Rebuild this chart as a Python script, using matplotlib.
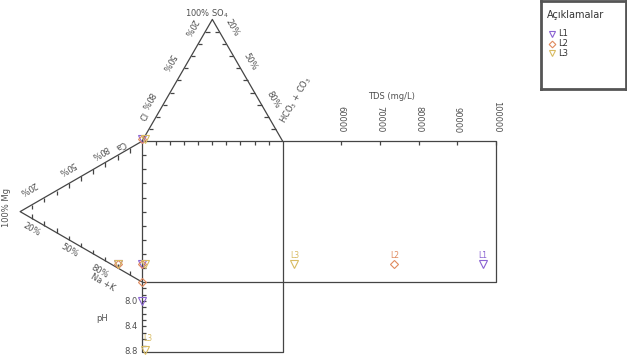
import numpy as np
import matplotlib
matplotlib.use('Agg')
import matplotlib.pyplot as plt

# sample data (percent of meq)
samples = ['L1', 'L2', 'L3']
cl = [100, 100, 98]
so4 = [0, 0, 0]
hco3 = [0, 0, 2]
ca = [3, 3, 3]
mg = [20, 20, 20]
nak = [77, 77, 77]
ph = [8.0, 7.7, 8.77]
tds = [96500, 73800, 48000]

tds_ticks = [60000, 70000, 80000, 90000, 100000]
ph_labels = [8.0, 8.4, 8.8]
pct_labels = ['20%', '50%', '80%']

colors = ['#8a63d2', '#e08a5e', '#d8bb62']
markers = ['v', 'D', 'v']
msizes = [6, 4.5, 6]

LC = '#454545'
TC = '#505050'
H = np.sqrt(3) / 2
TDS_MIN, TDS_MAX, TDS_W = 45000, 100000, 151.7
PH_MIN, PH_MAX, PH_H = 7.7, 8.8, 49.7

def tds_x(v):
    return 100 + (v - TDS_MIN) / (TDS_MAX - TDS_MIN) * TDS_W

def ph_y(v):
    return -(v - PH_MIN) / (PH_MAX - PH_MIN) * PH_H

fig = plt.figure(figsize=(6.27, 3.63), dpi=100)
ax = fig.add_axes([0, 0, 1, 1])
ax.set_xlim(-100.9, 344.7)
ax.set_ylim(-57.6, 200.4)
ax.axis('off')

kw = dict(color=LC, lw=0.9, solid_capstyle='butt')
# square, TDS box, pH box
ax.plot([0, 100, 100, 0, 0], [0, 0, 100, 100, 0], **kw)
ax.plot([100, 100 + TDS_W, 100 + TDS_W, 100], [100, 100, 0, 0], **kw)
ax.plot([0, 0, 100, 100], [0, -PH_H, -PH_H, 0], **kw)
# anion triangle
ax.plot([0, 50, 100], [100, 100 + 100 * H, 100], **kw)
# cation triangle
ax.plot([0, -100 * H, 0], [100, 50, 0], **kw)

tl = 3
for i in range(1, 10):
    f = i / 10
    # anion triangle ticks
    x, y = 50 * f, 100 + 100 * H * f
    ax.plot([x, x + tl], [y, y], **kw)
    x, y = 100 - 50 * f, 100 + 100 * H * f
    ax.plot([x, x - tl], [y, y], **kw)
    # cation triangle ticks
    x, y = -100 * H * f, 100 - 50 * f
    ax.plot([x, x], [y, y - tl], **kw)
    x, y = -100 * H * f, 50 * f
    ax.plot([x, x], [y, y + tl], **kw)
    # square ticks
    ax.plot([10 * i, 10 * i], [100, 100 - tl], **kw)
    ax.plot([0, tl], [10 * i, 10 * i], **kw)

# pH ticks every 0.1
for v in np.arange(7.8, 8.75, 0.1):
    ax.plot([0, tl], [ph_y(v), ph_y(v)], **kw)

# TDS ticks
for v in tds_ticks:
    ax.plot([tds_x(v), tds_x(v)], [100, 100 - tl], **kw)
    ax.text(tds_x(v), 106, str(v), rotation=270, ha='center', va='bottom',
            fontsize=6, color=TC)
ax.text(177, 132, 'TDS (mg/L)', ha='center', va='center', fontsize=6, color=TC)

fs = 6
def lab(x, y, s, rot):
    ax.text(x, y, s, rotation=rot, rotation_mode='anchor', ha='center',
            va='center', fontsize=fs, color=TC)

# anion triangle labels
ax.text(46.5, 186, '100% SO$_4$', ha='center', va='bottom', fontsize=fs, color=TC)
for s, (x, y) in zip(pct_labels, [(34.1, 181.2), (18.5, 156.4), (3.6, 129.4)]):
    lab(x, y, s, 240)
for s, (x, y) in zip(pct_labels, [(64.0, 180.5), (76.8, 156.4), (93.1, 129.4)]):
    lab(x, y, s, -60)
lab(2.1, 117.3, 'Cl', 60)
lab(109.5, 129.4, 'HCO$_3$ + CO$_3$', 60)

# cation triangle labels
lab(-96, 52.6, '100% Mg', 90)
for s, (x, y) in zip(pct_labels, [(-81.0, 66.8), (-53.3, 81.0), (-29.9, 92.4)]):
    lab(x, y, s, 210)
for s, (x, y) in zip(pct_labels, [(-78.2, 37.0), (-51.2, 22.7), (-29.9, 7.1)]):
    lab(x, y, s, -30)
lab(-15.6, 97.4, 'Ca', 210)
lab(-27.7, -0.7, 'Na +K', -30)

# pH labels
for v in ph_labels:
    ax.text(-3, ph_y(v), '%.1f' % v, ha='right', va='center', fontsize=fs, color=TC)
ax.text(-28, -26, 'pH', ha='center', va='center', fontsize=fs, color=TC)

# plot each sample in all five fields
for i, name in enumerate(samples):
    c = colors[i]
    mk = dict(marker=markers[i], ms=msizes[i], mfc='none', mec=c, mew=0.8, ls='none')
    axx = hco3[i] + so4[i] * 0.5
    axy = 100 + so4[i] * H
    cx = -mg[i] * H
    cy = ca[i] + mg[i] * 0.5
    ax.plot([axx], [axy + 1.5], **mk)
    ax.plot([cx], [cy], **mk)
    ax.plot([axx], [cy], **mk)
    ax.plot([tds_x(tds[i])], [cy], **mk)
    ax.text(tds_x(tds[i]), cy + 6, name, ha='center', va='center', fontsize=5.5, color=c)
    ax.plot([axx], [ph_y(ph[i])], **mk)
    if name == 'L3':
        ax.text(axx + 2.5, ph_y(ph[i]) + 8, name, ha='center', va='center',
                fontsize=5.5, color=c)

# legend panel (pixel coordinates inside)
lax = fig.add_axes([541 / 627, 1 - 89 / 363, 85 / 627, 88 / 363])
lax.set_xlim(0, 85)
lax.set_ylim(88, 0)
lax.set_xticks([])
lax.set_yticks([])
for sp in lax.spines.values():
    sp.set_color('#555555')
    sp.set_linewidth(2.0)
lax.text(6, 14, 'Açıklamalar', ha='left', va='center', fontsize=7, color='#333333')
for i, name in enumerate(samples):
    y = 33 + 9.5 * i
    lax.plot([11], [y], marker=markers[i], ms=msizes[i] * 0.75, mfc='none',
             mec=colors[i], mew=0.8, ls='none')
    lax.text(17, y, name, ha='left', va='center', fontsize=6, color='#333333')

fig.savefig('out.png', dpi=100)
